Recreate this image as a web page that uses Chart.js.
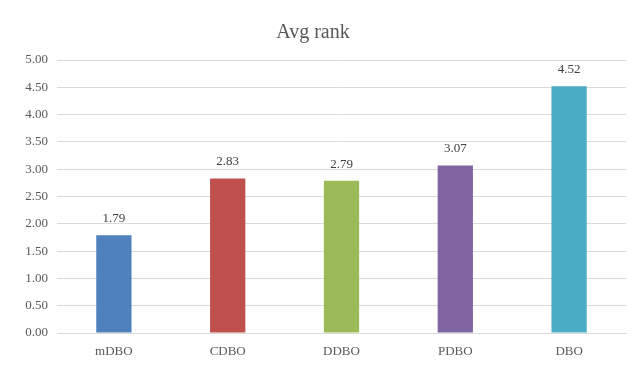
<!DOCTYPE html>
<html>
<head>
<meta charset="utf-8">
<script src="https://cdn.jsdelivr.net/npm/chart.js@4"></script>
<style>
  html, body { margin: 0; padding: 0; background: #fff; }
  #wrap { width: 644px; height: 369px; }
</style>
</head>
<body>
<div id="wrap"><canvas id="chart" width="644" height="369"></canvas></div>
<script>
const categories = ['mDBO', 'CDBO', 'DDBO', 'PDBO', 'DBO'];
const avgRank = [1.79, 2.83, 2.79, 3.07, 4.52];
const barColors = ['#4F81BD', '#C0504D', '#9BBB59', '#8064A2', '#4BACC6'];

const font = '"Liberation Serif", "Times New Roman", serif';
const textColor = '#595959';

// labels on top of each bar
const valueLabels = {
  id: 'valueLabels',
  afterDatasetsDraw(chart) {
    const ctx = chart.ctx;
    const meta = chart.getDatasetMeta(0);
    ctx.save();
    ctx.font = '13px ' + font;
    ctx.fillStyle = '#404040';
    ctx.textAlign = 'center';
    ctx.textBaseline = 'alphabetic';
    meta.data.forEach((bar, i) => {
      ctx.fillText(avgRank[i].toFixed(2), bar.x, bar.y - 13);
    });
    ctx.restore();
  }
};

new Chart(document.getElementById('chart'), {
  type: 'bar',
  data: {
    labels: categories,
    datasets: [{
      data: avgRank,
      backgroundColor: barColors,
      borderWidth: 0,
      categoryPercentage: 1,
      barPercentage: 0.31
    }]
  },
  options: {
    responsive: false,
    animation: false,
    layout: { padding: { top: 9, right: 18, bottom: 0, left: 0 } },
    plugins: {
      legend: { display: false },
      tooltip: { enabled: false },
      title: {
        display: true,
        text: 'Avg rank',
        color: textColor,
        font: { family: font, size: 20, weight: 'normal' },
        padding: { top: 12, bottom: 15 }
      }
    },
    scales: {
      x: {
        grid: { display: false },
        border: { color: '#d9d9d9' },
        ticks: { color: textColor, font: { family: font, size: 13 }, padding: 3 },
        afterFit: s => { s.height = 36; }
      },
      y: {
        min: 0,
        max: 5,
        border: { display: false },
        grid: { color: '#d9d9d9', drawTicks: false },
        ticks: {
          stepSize: 0.5,
          color: textColor,
          font: { family: font, size: 13 },
          padding: 9,
          callback: v => v.toFixed(2)
        },
        afterFit: s => { s.width = 57; }
      }
    }
  },
  plugins: [valueLabels]
});
</script>
</body>
</html>
